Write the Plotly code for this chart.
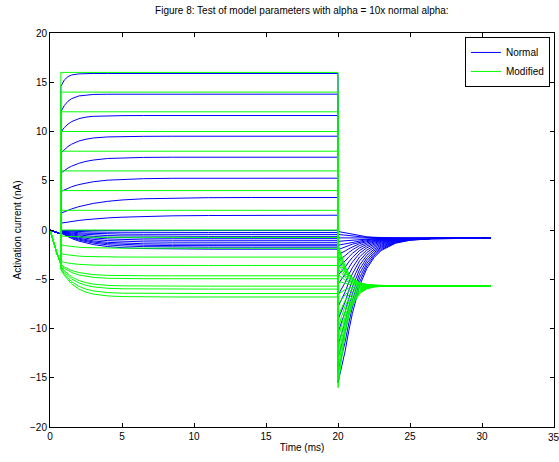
import plotly.graph_objects as go

# ---------------- data ----------------
t_pre = [0.0, 0.25, 0.5, 0.75]
t_step = [0.75, 1.0, 1.25, 1.5, 2.0, 2.5, 3.0, 4.0, 5.0, 6.5, 8.5, 11.0, 14.0, 20.0]
t_tail = [20.0, 20.25, 20.5, 20.75, 21.0, 21.5, 22.0, 22.5, 23.0, 24.0, 25.0, 26.5, 28.5, 30.6]

blue_pre = [0.0, -0.12, -0.26, -0.4]
green_pre = [0.0, -1.3, -2.45, -3.4]

# Normal (blue) step responses
blue_step = [
    [14.57, 15.24, 15.57, 15.74, 15.85, 15.88, 15.89, 15.89, 15.89, 15.89, 15.89, 15.89, 15.89, 15.89],
    [12.0, 12.65, 13.07, 13.33, 13.61, 13.72, 13.76, 13.785, 13.79, 13.79, 13.79, 13.79, 13.79, 13.79],
    [9.93, 10.41, 10.75, 11.0, 11.30, 11.46, 11.54, 11.60, 11.61, 11.62, 11.62, 11.62, 11.62, 11.62],
    [7.8, 8.18, 8.48, 8.71, 9.03, 9.22, 9.34, 9.45, 9.50, 9.51, 9.52, 9.52, 9.52, 9.52],
    [5.77, 6.05, 6.29, 6.48, 6.77, 6.97, 7.10, 7.26, 7.33, 7.37, 7.39, 7.39, 7.39, 7.39],
    [3.9, 4.09, 4.25, 4.39, 4.61, 4.77, 4.90, 5.06, 5.15, 5.21, 5.25, 5.26, 5.26, 5.26],
    [1.7, 1.86, 2.01, 2.14, 2.37, 2.55, 2.70, 2.91, 3.05, 3.17, 3.25, 3.28, 3.30, 3.30],
    [0.69, 0.755, 0.815, 0.87, 0.97, 1.05, 1.12, 1.225, 1.30, 1.38, 1.44, 1.47, 1.49, 1.50],
    [-0.05, -0.05, -0.05, -0.05, -0.05, -0.05, -0.05, -0.05, -0.05, -0.05, -0.05, -0.05, -0.05, -0.05],
    [-0.08, -0.102, -0.121, -0.138, -0.165, -0.186, -0.201, -0.222, -0.234, -0.243, -0.248, -0.25, -0.25, -0.25],
    [-0.10, -0.145, -0.185, -0.219, -0.275, -0.318, -0.350, -0.393, -0.417, -0.436, -0.445, -0.449, -0.45, -0.45],
    [-0.13, -0.198, -0.256, -0.307, -0.390, -0.453, -0.501, -0.565, -0.601, -0.629, -0.643, -0.648, -0.65, -0.65],
    [-0.15, -0.241, -0.320, -0.389, -0.501, -0.585, -0.649, -0.735, -0.784, -0.821, -0.841, -0.848, -0.85, -0.85],
    [-0.18, -0.293, -0.391, -0.477, -0.616, -0.721, -0.800, -0.907, -0.968, -1.014, -1.038, -1.047, -1.05, -1.05],
    [-0.20, -0.337, -0.455, -0.558, -0.726, -0.853, -0.949, -1.078, -1.151, -1.207, -1.236, -1.246, -1.25, -1.25],
    [-0.23, -0.389, -0.526, -0.646, -0.841, -0.989, -1.100, -1.250, -1.335, -1.400, -1.434, -1.446, -1.45, -1.45],
    [-0.25, -0.426, -0.578, -0.710, -0.926, -1.090, -1.213, -1.379, -1.473, -1.545, -1.582, -1.595, -1.6, -1.6],
    [-0.28, -0.471, -0.637, -0.781, -1.016, -1.194, -1.328, -1.509, -1.612, -1.690, -1.730, -1.745, -1.75, -1.75],
    [-0.30, -0.515, -0.701, -0.863, -1.127, -1.326, -1.476, -1.679, -1.795, -1.882, -1.928, -1.944, -1.95, -1.95],
]

blue_tail = [
    [-15.5, -14.03, -12.27, -10.22, -8.46, -5.67, -3.91, -2.81, -2.08, -1.34, -1.04, -0.89, -0.845, -0.83],
    [-14.3, -12.95, -11.34, -9.45, -7.83, -5.28, -3.66, -2.65, -1.98, -1.30, -1.02, -0.884, -0.843, -0.83],
    [-13.0, -11.78, -10.32, -8.62, -7.16, -4.85, -3.39, -2.47, -1.86, -1.26, -1.0, -0.879, -0.842, -0.83],
    [-11.7, -10.61, -9.31, -7.79, -6.48, -4.42, -3.11, -2.30, -1.75, -1.21, -0.98, -0.873, -0.841, -0.83],
    [-10.4, -9.44, -8.29, -6.95, -5.81, -3.99, -2.84, -2.12, -1.64, -1.17, -0.96, -0.868, -0.84, -0.83],
    [-9.1, -8.27, -7.28, -6.12, -5.13, -3.56, -2.57, -1.95, -1.53, -1.12, -0.95, -0.863, -0.838, -0.83],
    [-7.8, -7.10, -6.27, -5.29, -4.45, -3.13, -2.29, -1.77, -1.42, -1.07, -0.93, -0.858, -0.837, -0.83],
    [-6.6, -6.02, -5.33, -4.52, -3.83, -2.73, -2.04, -1.61, -1.32, -1.03, -0.91, -0.853, -0.836, -0.83],
    [-5.5, -5.03, -4.47, -3.82, -3.26, -2.37, -1.81, -1.46, -1.23, -0.99, -0.895, -0.849, -0.835, -0.83],
    [-4.6, -4.22, -3.77, -3.24, -2.79, -2.07, -1.62, -1.34, -1.15, -0.96, -0.883, -0.845, -0.834, -0.83],
    [-3.8, -3.50, -3.15, -2.73, -2.37, -1.81, -1.45, -1.23, -1.08, -0.934, -0.872, -0.842, -0.833, -0.83],
    [-3.1, -2.87, -2.60, -2.28, -2.01, -1.58, -1.31, -1.14, -1.02, -0.909, -0.862, -0.839, -0.832, -0.83],
    [-2.5, -2.33, -2.13, -1.90, -1.70, -1.38, -1.18, -1.06, -0.97, -0.888, -0.853, -0.837, -0.832, -0.83],
    [-2.0, -1.88, -1.74, -1.58, -1.44, -1.22, -1.08, -0.99, -0.93, -0.871, -0.846, -0.835, -0.831, -0.83],
    [-1.55, -1.48, -1.39, -1.29, -1.20, -1.07, -0.98, -0.927, -0.891, -0.855, -0.84, -0.833, -0.831, -0.83],
    [-1.15, -1.118, -1.08, -1.035, -0.996, -0.936, -0.897, -0.873, -0.857, -0.841, -0.834, -0.831, -0.83, -0.83],
    [-0.8, -0.803, -0.807, -0.811, -0.814, -0.82, -0.824, -0.826, -0.827, -0.829, -0.83, -0.83, -0.83, -0.83],
    [-0.45, -0.488, -0.534, -0.587, -0.632, -0.705, -0.75, -0.779, -0.798, -0.817, -0.825, -0.828, -0.83, -0.83],
    [-0.15, -0.218, -0.30, -0.395, -0.476, -0.606, -0.687, -0.738, -0.772, -0.806, -0.82, -0.827, -0.829, -0.83],
]

# Modified (green): instantaneous steps to these levels
green_flat_levels = [16.0, 14.0, 12.0, 10.0, 8.0, 6.0, 4.0, 2.0, 0.0]

# Modified (green) negative step responses
green_step = [
    [-0.60, -0.633, -0.659, -0.679, -0.707, -0.724, -0.734, -0.744, -0.748, -0.75, -0.75, -0.75, -0.75, -0.75],
    [-1.5, -1.577, -1.638, -1.685, -1.750, -1.789, -1.813, -1.836, -1.845, -1.849, -1.85, -1.85, -1.85, -1.85],
    [-2.4, -2.477, -2.538, -2.585, -2.650, -2.689, -2.713, -2.736, -2.745, -2.749, -2.75, -2.75, -2.75, -2.75],
    [-3.2, -3.288, -3.357, -3.411, -3.485, -3.530, -3.558, -3.584, -3.594, -3.599, -3.6, -3.6, -3.6, -3.6],
    [-3.5, -3.754, -3.952, -4.107, -4.320, -4.450, -4.529, -4.605, -4.634, -4.646, -4.65, -4.65, -4.65, -4.65],
    [-3.6, -3.898, -4.131, -4.313, -4.563, -4.715, -4.808, -4.897, -4.931, -4.946, -4.95, -4.95, -4.95, -4.95],
    [-3.7, -4.142, -4.486, -4.756, -5.126, -5.352, -5.49, -5.622, -5.671, -5.694, -5.699, -5.7, -5.7, -5.7],
    [-3.8, -4.286, -4.665, -4.962, -5.369, -5.617, -5.769, -5.914, -5.969, -5.993, -5.999, -6.0, -6.0, -6.0],
    [-3.9, -4.464, -4.902, -5.246, -5.718, -6.006, -6.182, -6.351, -6.414, -6.442, -6.449, -6.45, -6.45, -6.45],
    [-4.0, -4.619, -5.100, -5.478, -5.996, -6.313, -6.506, -6.691, -6.760, -6.791, -6.799, -6.8, -6.8, -6.8],
]

green_tail = [
    [-16.0, -13.10, -10.52, -8.76, -7.62, -6.44, -5.97, -5.78, -5.71, -5.67, -5.66, -5.66, -5.66, -5.66],
    [-15.2, -12.53, -10.14, -8.52, -7.47, -6.38, -5.95, -5.77, -5.71, -5.67, -5.66, -5.66, -5.66, -5.66],
    [-14.3, -11.88, -9.72, -8.25, -7.30, -6.31, -5.92, -5.76, -5.70, -5.67, -5.66, -5.66, -5.66, -5.66],
    [-13.3, -11.16, -9.25, -7.95, -7.11, -6.23, -5.89, -5.75, -5.70, -5.67, -5.66, -5.66, -5.66, -5.66],
    [-12.3, -10.44, -8.78, -7.65, -6.92, -6.16, -5.86, -5.74, -5.69, -5.667, -5.66, -5.66, -5.66, -5.66],
    [-11.2, -9.65, -8.26, -7.32, -6.71, -6.08, -5.83, -5.73, -5.69, -5.665, -5.66, -5.66, -5.66, -5.66],
    [-10.0, -8.78, -7.70, -6.96, -6.48, -5.99, -5.79, -5.71, -5.68, -5.664, -5.66, -5.66, -5.66, -5.66],
    [-8.8, -7.92, -7.14, -6.60, -6.26, -5.90, -5.75, -5.70, -5.68, -5.663, -5.66, -5.66, -5.66, -5.66],
    [-7.6, -7.06, -6.57, -6.24, -6.03, -5.81, -5.72, -5.68, -5.67, -5.662, -5.66, -5.66, -5.66, -5.66],
    [-6.5, -6.26, -6.05, -5.91, -5.82, -5.72, -5.685, -5.67, -5.664, -5.661, -5.66, -5.66, -5.66, -5.66],
    [-5.2, -5.33, -5.44, -5.52, -5.57, -5.63, -5.646, -5.654, -5.658, -5.66, -5.66, -5.66, -5.66, -5.66],
    [-4.5, -4.82, -5.11, -5.31, -5.44, -5.57, -5.625, -5.646, -5.654, -5.659, -5.66, -5.66, -5.66, -5.66],
    [-3.9, -4.39, -4.83, -5.13, -5.33, -5.53, -5.61, -5.64, -5.65, -5.658, -5.66, -5.66, -5.66, -5.66],
    [-3.4, -4.03, -4.60, -4.98, -5.23, -5.49, -5.59, -5.63, -5.65, -5.658, -5.66, -5.66, -5.66, -5.66],
    [-2.9, -3.67, -4.36, -4.83, -5.14, -5.45, -5.58, -5.63, -5.646, -5.657, -5.66, -5.66, -5.66, -5.66],
    [-2.5, -3.385, -4.175, -4.71, -5.06, -5.42, -5.565, -5.62, -5.644, -5.657, -5.66, -5.66, -5.66, -5.66],
    [-2.1, -3.10, -3.99, -4.59, -4.98, -5.39, -5.55, -5.617, -5.642, -5.656, -5.66, -5.66, -5.66, -5.66],
    [-1.8, -2.88, -3.85, -4.50, -4.93, -5.37, -5.54, -5.614, -5.64, -5.656, -5.66, -5.66, -5.66, -5.66],
    [-1.5, -2.66, -3.70, -4.41, -4.87, -5.35, -5.535, -5.61, -5.64, -5.656, -5.66, -5.66, -5.66, -5.66],
]

x_ticks = [0, 5, 10, 15, 20, 25, 30, 35]
y_ticks = [-20, -15, -10, -5, 0, 5, 10, 15, 20]

BLUE = "#0000ff"
GREEN = "#00ff00"

fig = go.Figure()

for i, (st, tl) in enumerate(zip(blue_step, blue_tail)):
    fig.add_trace(go.Scatter(
        x=t_pre + t_step + t_tail, y=blue_pre + st + tl,
        mode="lines", line=dict(color=BLUE, width=1),
        name="Normal", legendgroup="n", showlegend=(i == 0), hoverinfo="skip"))

n_flat = len(green_flat_levels)
for i, tl in enumerate(green_tail):
    if i < n_flat:
        lv = green_flat_levels[i]
        xs = t_pre + [t_step[0], t_step[-1]] + t_tail
        ys = green_pre + [lv, lv] + tl
    else:
        xs = t_pre + t_step + t_tail
        ys = green_pre + green_step[i - n_flat] + tl
    fig.add_trace(go.Scatter(
        x=xs, y=ys, mode="lines", line=dict(color=GREEN, width=1),
        name="Modified", legendgroup="m", showlegend=(i == 0), hoverinfo="skip"))

FONT = "Liberation Sans, Arial, Helvetica, sans-serif"
axis_common = dict(showline=True, linecolor="black", linewidth=1, mirror="ticks",
                   ticks="inside", ticklen=4, tickcolor="black", showgrid=False,
                   zeroline=False, tickfont=dict(family=FONT, size=10, color="black"))

fig.update_layout(
    width=559, height=462,
    margin=dict(l=50, r=5, t=33, b=35),
    paper_bgcolor="white", plot_bgcolor="white",
    font=dict(family=FONT, size=10, color="black"),
    title=dict(text="Figure 8: Test of model parameters with alpha = 10x normal alpha:",
               x=0.54, xanchor="center", y=0.977, yanchor="middle",
               font=dict(family=FONT, size=10, color="black")),
    xaxis=dict(range=[0, 35], tickvals=x_ticks,
               title=dict(text="Time (ms)", standoff=2, font=dict(size=10)), **axis_common),
    yaxis=dict(range=[-20, 20], tickvals=y_ticks,
               title=dict(text="Activation current (nA)", standoff=6, font=dict(size=10)), **axis_common),
    legend=dict(x=0.992, xanchor="right", y=0.99, yanchor="top",
                bgcolor="white", bordercolor="black", borderwidth=1,
                font=dict(family=FONT, size=10), tracegroupgap=0, itemwidth=30),
    showlegend=True,
    hovermode=False,
)

# the last x tick label sits at the right edge of the figure (cut off, as in the reference)
fig.add_annotation(x=x_ticks[-1], xref="x", y=0, yref="paper", yanchor="top", yshift=-3,
                   text=str(x_ticks[-1]), showarrow=False,
                   font=dict(family=FONT, size=10, color="black"))

fig.write_html("out.html")
